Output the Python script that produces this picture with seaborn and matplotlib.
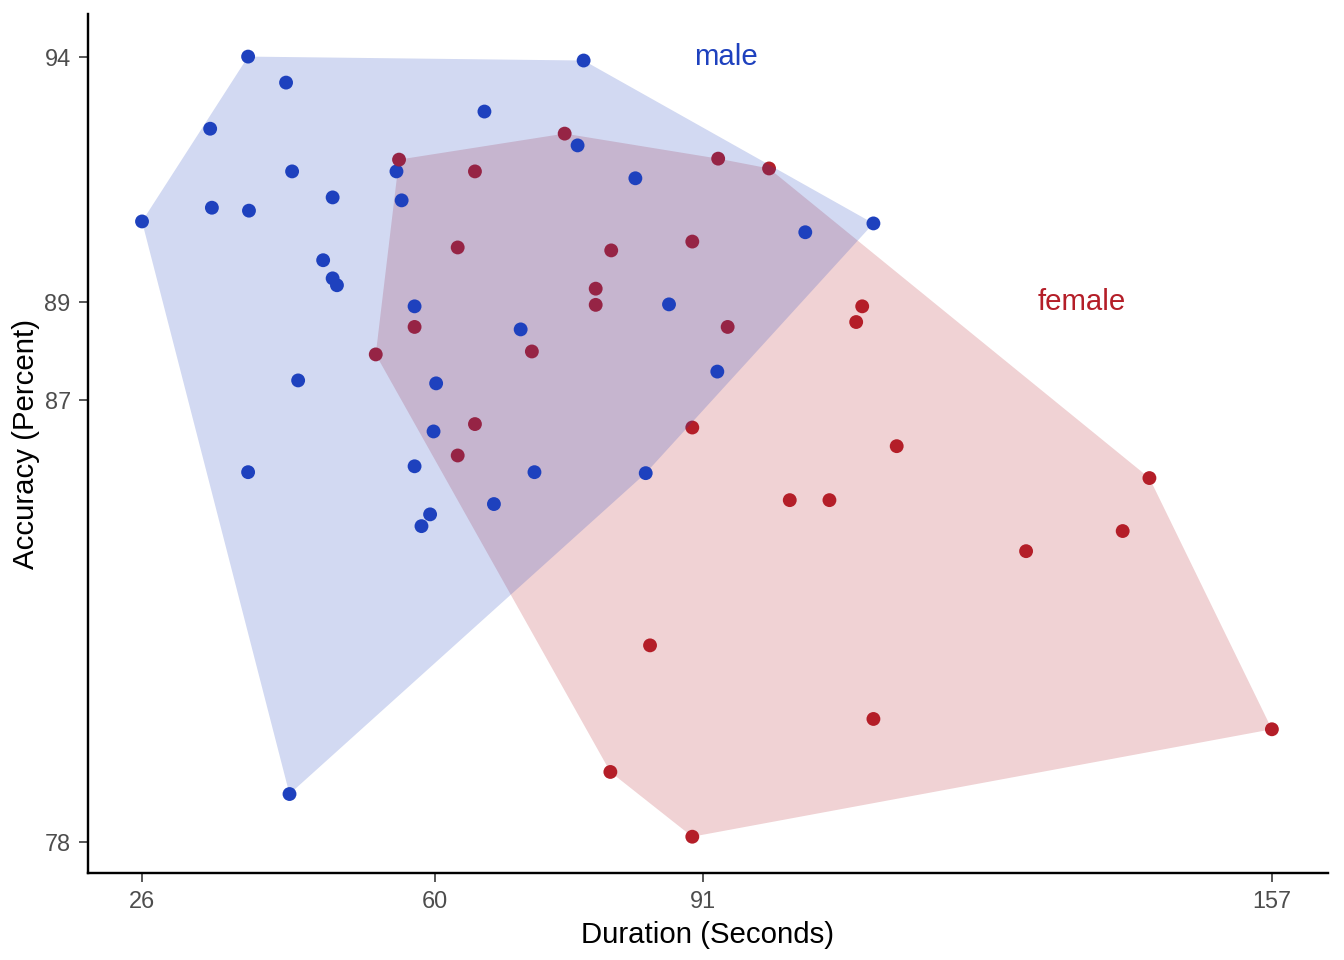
import numpy as np
import pandas as pd
import seaborn as sns
import matplotlib.pyplot as plt

# values
male_duration = [38.3, 77.2, 42.7, 65.7, 33.9, 76.5, 43.4, 55.5, 83.2, 48.1,
                 56.1, 34.1, 38.4, 26.0, 110.8, 102.9, 47.0, 48.1, 48.6, 57.6,
                 87.1, 69.9, 44.1, 60.1, 92.7, 59.8, 57.6, 38.3, 71.5, 84.4,
                 66.8, 59.4, 58.4, 43.1]
male_accuracy = [94.0, 93.92, 93.47, 92.88, 92.53, 92.19, 91.66, 91.66, 91.52, 91.13,
                 91.07, 90.92, 90.86, 90.64, 90.60, 90.42, 89.85, 89.48, 89.34, 88.91,
                 88.95, 88.44, 87.40, 87.34, 87.58, 86.36, 85.65, 85.53, 85.53, 85.51,
                 84.88, 84.67, 84.43, 78.97]

female_duration = [75.0, 55.8, 64.6, 92.8, 98.7, 62.6, 80.4, 89.8, 78.6, 78.6,
                   57.6, 93.9, 53.1, 71.2, 64.6, 89.8, 62.6, 101.1, 109.5, 108.8,
                   113.5, 105.7, 142.8, 139.7, 128.5, 84.9, 110.8, 157.0, 80.3, 89.8]
female_accuracy = [92.43, 91.90, 91.66, 91.92, 91.72, 90.11, 90.05, 90.23, 89.27, 88.94,
                   88.49, 88.49, 87.93, 87.99, 86.51, 86.44, 85.87, 84.96, 88.91, 88.59,
                   86.06, 84.96, 85.41, 84.33, 83.92, 82.0, 80.50, 80.29, 79.42, 78.1]

x_ticks = [26, 60, 91, 157]
y_ticks = [78, 87, 89, 94]
palette = {'male': '#1e41be', 'female': '#b41e28'}

df = pd.DataFrame({
    'Duration': male_duration + female_duration,
    'Accuracy': male_accuracy + female_accuracy,
    'gender': ['male'] * len(male_duration) + ['female'] * len(female_duration),
})


def convex_hull(pts):
    pts = sorted(set(pts))
    if len(pts) < 3:
        return pts

    def cross(o, a, b):
        return (a[0] - o[0]) * (b[1] - o[1]) - (a[1] - o[1]) * (b[0] - o[0])

    lower, upper = [], []
    for p in pts:
        while len(lower) >= 2 and cross(lower[-2], lower[-1], p) <= 0:
            lower.pop()
        lower.append(p)
    for p in reversed(pts):
        while len(upper) >= 2 and cross(upper[-2], upper[-1], p) <= 0:
            upper.pop()
        upper.append(p)
    return lower[:-1] + upper[:-1]


sns.set_style('white')
plt.rcParams['font.family'] = ['Liberation Sans', 'DejaVu Sans']

fig = plt.figure(figsize=(7, 5), dpi=192)
ax = fig.add_axes([0.0655, 0.0906, 0.9225, 0.8944])

sns.scatterplot(data=df, x='Duration', y='Accuracy', hue='gender', palette=palette,
                s=27, linewidth=0, legend=False, ax=ax, zorder=2)

# female hull sits under the points, male hull on top (tints the female points)
hull_z = {'female': 1, 'male': 3}
for g in ['female', 'male']:
    sub = df[df['gender'] == g]
    hull = np.array(convex_hull(list(zip(sub['Duration'], sub['Accuracy']))))
    ax.fill(hull[:, 0], hull[:, 1], color=palette[g], alpha=0.2, lw=0, zorder=hull_z[g])

ax.text(93.7, 94.0, 'male', color=palette['male'], fontsize=11, ha='center', va='center')
ax.text(135.0, 89.0, 'female', color=palette['female'], fontsize=11, ha='center', va='center')

ax.set_xlim(19.74, 163.49)
ax.set_ylim(77.36, 94.86)
ax.set_xticks(x_ticks)
ax.set_yticks(y_ticks)
ax.set_xlabel('Duration (Seconds)', fontsize=11, color='black', labelpad=3)
ax.set_ylabel('Accuracy (Percent)', fontsize=11, color='black', labelpad=1.5)
ax.tick_params(axis='both', labelsize=8.8, labelcolor='#4d4d4d', color='#333333',
               length=3.5, width=0.6, bottom=True, left=True, pad=3)
sns.despine(ax=ax)
for s in ['left', 'bottom']:
    ax.spines[s].set_color('black')
    ax.spines[s].set_linewidth(0.9)

plt.savefig('out.png', dpi=192)
plt.close()
